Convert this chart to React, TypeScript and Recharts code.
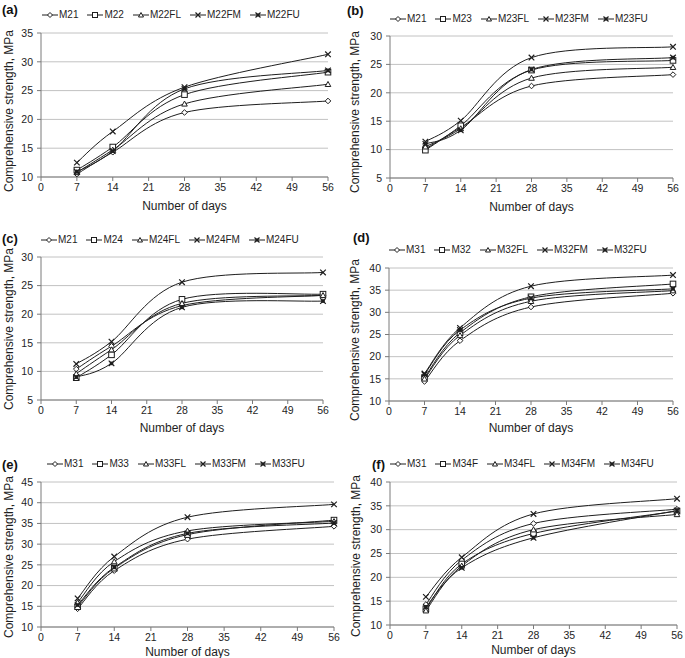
import React from "react";
import { LineChart, Line, XAxis, YAxis, CartesianGrid } from "recharts";

const days = [7, 14, 28, 56];
const dayTicks = [0, 7, 14, 21, 28, 35, 42, 49, 56];

// (a)
const namesA = ["M21", "M22", "M22FL", "M22FM", "M22FU"];
const valuesA = [
  [10.5, 14.3, 21.2, 23.2],
  [11.2, 15.2, 24.3, 28.2],
  [10.8, 14.7, 22.7, 26.1],
  [12.5, 17.9, 25.6, 31.3],
  [10.9, 14.5, 25.3, 28.5],
];
const yTicksA = [10, 15, 20, 25, 30, 35];

// (b)
const namesB = ["M21", "M23", "M23FL", "M23FM", "M23FU"];
const valuesB = [
  [10.1, 13.9, 21.2, 23.2],
  [9.9, 14.2, 24.0, 25.7],
  [10.5, 13.7, 22.6, 24.5],
  [11.4, 15.1, 26.2, 28.1],
  [11.0, 13.4, 24.1, 26.2],
];
const yTicksB = [5, 10, 15, 20, 25, 30];

// (c)
const namesC = ["M21", "M24", "M24FL", "M24FM", "M24FU"];
const valuesC = [
  [10.4, 14.4, 21.5, 23.3],
  [8.9, 12.9, 22.6, 23.5],
  [9.6, 13.8, 21.9, 23.3],
  [11.3, 15.2, 25.6, 27.3],
  [9.0, 11.4, 21.2, 22.3],
];
const yTicksC = [5, 10, 15, 20, 25, 30];

// (d)
const namesD = ["M31", "M32", "M32FL", "M32FM", "M32FU"];
const valuesD = [
  [14.4, 23.6, 31.2, 34.3],
  [15.3, 25.4, 33.5, 36.4],
  [15.0, 24.8, 32.5, 34.9],
  [16.2, 26.5, 35.9, 38.4],
  [16.0, 26.0, 33.2, 35.3],
];
const yTicksD = [10, 15, 20, 25, 30, 35, 40];

// (e)
const namesE = ["M31", "M33", "M33FL", "M33FM", "M33FU"];
const valuesE = [
  [14.4, 23.6, 31.2, 34.3],
  [14.9, 24.2, 32.3, 35.8],
  [15.9, 25.8, 33.2, 35.5],
  [16.9, 27.0, 36.5, 39.6],
  [15.3, 24.4, 32.6, 35.1],
];
const yTicksE = [10, 15, 20, 25, 30, 35, 40, 45];

// (f)
const namesF = ["M31", "M34F", "M34FL", "M34FM", "M34FU"];
const valuesF = [
  [14.3, 23.6, 31.3, 34.3],
  [13.4, 22.8, 29.2, 33.9],
  [13.0, 22.4, 30.0, 33.2],
  [15.9, 24.2, 33.3, 36.5],
  [13.8, 22.0, 28.3, 34.0],
];
const yTicksF = [10, 15, 20, 25, 30, 35, 40];

const FONT = "'Liberation Sans', Arial, Helvetica, sans-serif";
const INK = "#1e1e1e";

// spreadsheet-style smoothed line (Catmull-Rom through the points)
const smoothCurve = (context: any) => {
  let pts: number[][] = [];
  return {
    areaStart() {},
    areaEnd() {},
    lineStart() {
      pts = [];
    },
    point(x: number, y: number) {
      pts.push([+x, +y]);
    },
    lineEnd() {
      if (!pts.length) return;
      context.moveTo(pts[0][0], pts[0][1]);
      for (let i = 0; i < pts.length - 1; i++) {
        const p0 = pts[i - 1] || pts[i];
        const p1 = pts[i];
        const p2 = pts[i + 1];
        const p3 = pts[i + 2] || p2;
        context.bezierCurveTo(
          p1[0] + (p2[0] - p0[0]) / 6,
          p1[1] + (p2[1] - p0[1]) / 6,
          p2[0] - (p3[0] - p1[0]) / 6,
          p2[1] - (p3[1] - p1[1]) / 6,
          p2[0],
          p2[1]
        );
      }
    },
  };
};

function Marker({ kind, cx, cy, s = 2.8 }: { kind: number; cx: number; cy: number; s?: number }) {
  if (cx == null || cy == null) return null;
  if (kind === 0)
    return (
      <path
        d={`M${cx},${cy - s}L${cx + s},${cy}L${cx},${cy + s}L${cx - s},${cy}Z`}
        fill="#fff"
        stroke={INK}
        strokeWidth={1}
      />
    );
  if (kind === 1)
    return <rect x={cx - s} y={cy - s} width={2 * s} height={2 * s} fill="#fff" stroke={INK} strokeWidth={1} />;
  if (kind === 2)
    return (
      <path
        d={`M${cx},${cy - s}L${cx + s},${cy + s * 0.8}L${cx - s},${cy + s * 0.8}Z`}
        fill="#fff"
        stroke={INK}
        strokeWidth={1}
      />
    );
  if (kind === 3)
    return (
      <path
        d={`M${cx - s},${cy - s}L${cx + s},${cy + s}M${cx + s},${cy - s}L${cx - s},${cy + s}`}
        stroke={INK}
        strokeWidth={1.2}
        fill="none"
      />
    );
  return (
    <g>
      <rect x={cx - s + 1} y={cy - s + 1} width={2 * s - 2} height={2 * s - 2} fill={INK} />
      <path
        d={`M${cx - s},${cy - s}L${cx + s},${cy + s}M${cx + s},${cy - s}L${cx - s},${cy + s}`}
        stroke={INK}
        strokeWidth={1.2}
      />
    </g>
  );
}

type Panel = {
  tag: string;
  names: string[];
  values: number[][];
  yTicks: number[];
  left: number;
  top: number;
  w: number;
  h: number;
  plot: { l: number; t: number; r: number; b: number };
  tagX: number;
  tagY: number;
  legX: number;
  legY: number;
  xTitleY: number;
  yTitleX: number;
  yTitleY: number;
};

const panels: Panel[] = [
  {
    tag: "(a)", names: namesA, values: valuesA, yTicks: yTicksA,
    left: 0, top: 0, w: 340, h: 215, plot: { l: 41, t: 33, r: 328, b: 177 },
    tagX: 2, tagY: 9, legX: 42, legY: 15, xTitleY: 206, yTitleX: 9, yTitleY: 111,
  },
  {
    tag: "(b)", names: namesB, values: valuesB, yTicks: yTicksB,
    left: 340, top: 0, w: 345, h: 215, plot: { l: 50, t: 36, r: 333, b: 178 },
    tagX: 7, tagY: 10, legX: 50, legY: 19, xTitleY: 207, yTitleX: 15, yTitleY: 112,
  },
  {
    tag: "(c)", names: namesC, values: valuesC, yTicks: yTicksC,
    left: 0, top: 215, w: 340, h: 220, plot: { l: 41, t: 42, r: 323, b: 185 },
    tagX: 2, tagY: 23, legX: 41, legY: 25, xTitleY: 213, yTitleX: 9, yTitleY: 114,
  },
  {
    tag: "(d)", names: namesD, values: valuesD, yTicks: yTicksD,
    left: 340, top: 215, w: 345, h: 220, plot: { l: 49, t: 53, r: 333, b: 186 },
    tagX: 13, tagY: 22, legX: 49, legY: 35, xTitleY: 213, yTitleX: 15, yTitleY: 125,
  },
  {
    tag: "(e)", names: namesE, values: valuesE, yTicks: yTicksE,
    left: 0, top: 435, w: 340, h: 223, plot: { l: 41, t: 47, r: 334, b: 192 },
    tagX: 2, tagY: 29, legX: 47, legY: 29, xTitleY: 217, yTitleX: 9, yTitleY: 122,
  },
  {
    tag: "(f)", names: namesF, values: valuesF, yTicks: yTicksF,
    left: 340, top: 435, w: 345, h: 223, plot: { l: 50, t: 47, r: 337, b: 190 },
    tagX: 32, tagY: 29, legX: 50, legY: 29, xTitleY: 215, yTitleX: 16, yTitleY: 121,
  },
];

function LegendRow({ names }: { names: string[] }) {
  return (
    <div style={{ display: "flex", alignItems: "center", fontSize: 10, color: INK, fontFamily: FONT, whiteSpace: "nowrap" }}>
      {names.map((n, i) => (
        <div key={n} style={{ display: "flex", alignItems: "center", marginRight: 9 }}>
          <svg width={16} height={10} style={{ marginRight: 1 }}>
            <line x1={0} y1={5} x2={16} y2={5} stroke={INK} strokeWidth={1} />
            <Marker kind={i} cx={8} cy={5} s={2.5} />
          </svg>
          <span>{n}</span>
        </div>
      ))}
    </div>
  );
}

function PanelChart({ p }: { p: Panel }) {
  const rows = days.map((d, j) => {
    const row: Record<string, number> = { day: d };
    p.names.forEach((n, i) => {
      row[n] = p.values[i][j];
    });
    return row;
  });
  const yDomain = [p.yTicks[0], p.yTicks[p.yTicks.length - 1]];
  return (
    <div style={{ position: "absolute", left: p.left, top: p.top, width: p.w, height: p.h }}>
      <LineChart
        width={p.w}
        height={p.h}
        data={rows}
        margin={{ top: p.plot.t, right: p.w - p.plot.r, left: 0, bottom: 0 }}
        style={{ fontFamily: FONT }}
      >
        <CartesianGrid vertical={false} stroke="#c2c2c2" strokeWidth={1} />
        <XAxis
          dataKey="day"
          type="number"
          domain={[0, 56]}
          ticks={dayTicks}
          interval={0}
          height={p.h - p.plot.b}
          tickSize={4}
          tickMargin={3}
          stroke="#7a7a7a"
          tick={{ fill: INK, fontSize: 10.5 }}
        />
        <YAxis
          type="number"
          domain={yDomain}
          ticks={p.yTicks}
          interval={0}
          width={p.plot.l}
          tickSize={4}
          tickMargin={4}
          stroke="#7a7a7a"
          tick={{ fill: INK, fontSize: 10.5 }}
        />
        {p.names.map((n, i) => (
          <Line
            key={n}
            dataKey={n}
            type={smoothCurve as any}
            stroke={INK}
            strokeWidth={1}
            isAnimationActive={false}
            activeDot={false}
            dot={(d: any) => <Marker key={`${n}-${d.index}`} kind={i} cx={d.cx} cy={d.cy} />}
          />
        ))}
      </LineChart>
      <svg
        width={p.w}
        height={p.h}
        style={{ position: "absolute", left: 0, top: 0, pointerEvents: "none", fontFamily: FONT }}
      >
        <text x={p.tagX} y={p.tagY} dominantBaseline="central" fontSize={13} fontWeight="bold" fill="#111">
          {p.tag}
        </text>
        <text
          x={(p.plot.l + p.plot.r) / 2}
          y={p.xTitleY}
          textAnchor="middle"
          dominantBaseline="central"
          fontSize={12}
          fill={INK}
        >
          Number of days
        </text>
        <text
          x={p.yTitleX}
          y={p.yTitleY}
          transform={`rotate(-90, ${p.yTitleX}, ${p.yTitleY})`}
          textAnchor="middle"
          dominantBaseline="central"
          fontSize={12}
          fill={INK}
        >
          Comprehensive strength, MPa
        </text>
      </svg>
      <div style={{ position: "absolute", left: p.legX, top: p.legY - 6 }}>
        <LegendRow names={p.names} />
      </div>
    </div>
  );
}

export default function App() {
  return (
    <div style={{ position: "absolute", left: 0, top: 0, width: 685, height: 658, background: "#fff" }}>
      {panels.map((p) => (
        <PanelChart key={p.tag} p={p} />
      ))}
    </div>
  );
}
